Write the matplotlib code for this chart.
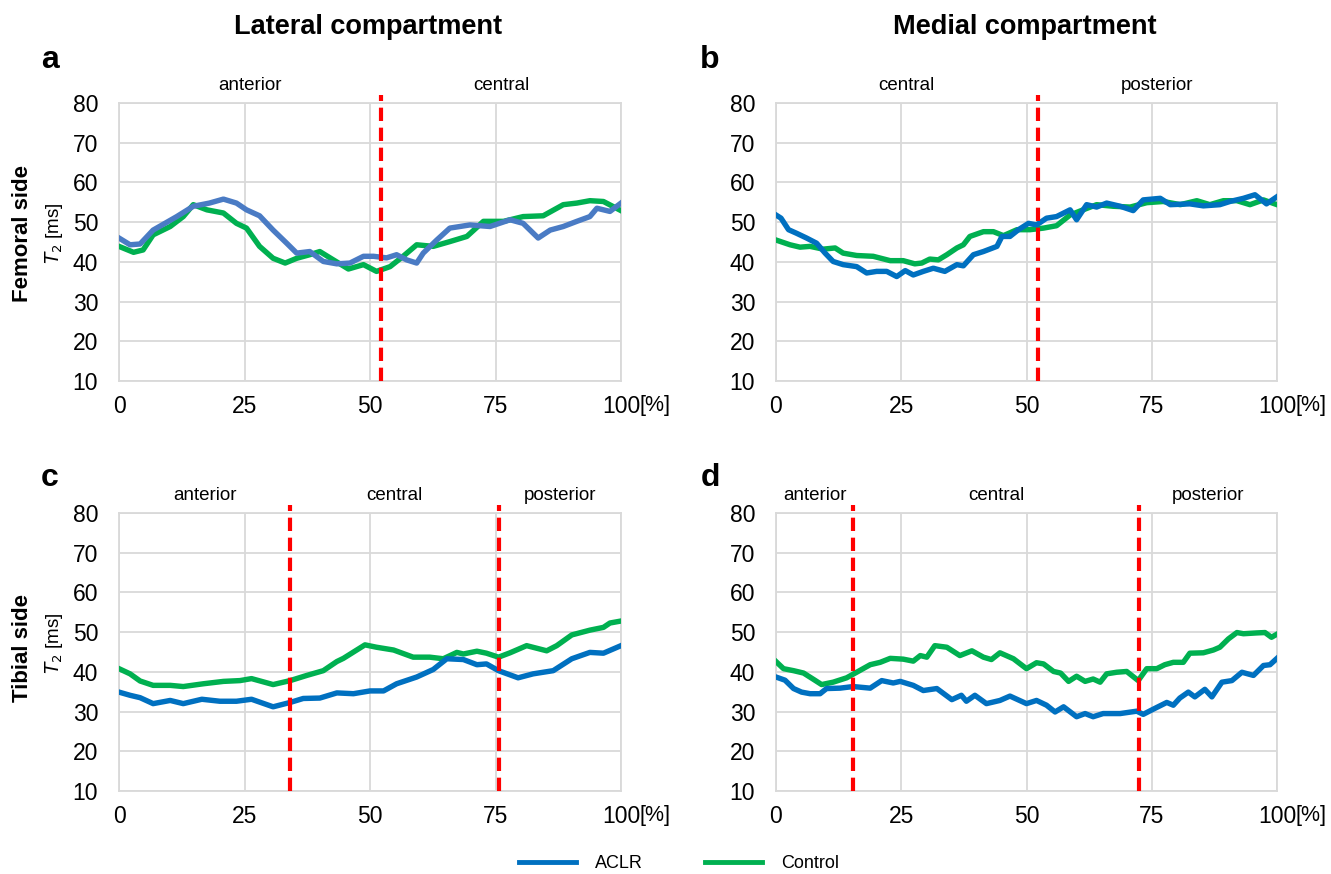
import matplotlib
matplotlib.use('Agg')
import matplotlib.pyplot as plt

plt.rcParams['font.family'] = ['Liberation Sans', 'DejaVu Sans']

# ---- data (position along the compartment [%], T2 [ms]) ----
a_aclr_x = [0, 2.2, 4.2, 6.8, 11.5, 14.8, 18, 20.8, 23.4, 25.4, 28, 30.7, 33.4, 35.4, 38, 40.7,
            43.4, 46, 48.7, 50.7, 53.3, 55.3, 57.3, 59.3, 60.6, 63.3, 65.9, 69.9, 73.9, 77.9,
            80.5, 83.5, 85.9, 88.5, 91.2, 93.8, 95.2, 97.8, 100]
a_aclr_y = [46.0, 44.3, 44.5, 48.0, 51.4, 54.0, 54.8, 55.8, 54.8, 53.1, 51.6, 48.0, 44.7, 42.2,
            42.6, 40.1, 39.5, 39.7, 41.4, 41.4, 41.0, 41.8, 40.5, 39.7, 42.2, 45.5, 48.5, 49.3,
            48.9, 50.6, 49.7, 46.0, 48.0, 48.9, 50.2, 51.4, 53.5, 52.7, 54.8]
a_ctrl_x = [0, 2.9, 4.8, 6.8, 10.2, 12.8, 14.8, 17.5, 20.8, 23.4, 25.4, 28, 30.7, 33.1, 35.4,
            38, 40, 42.7, 45.7, 48.7, 51.3, 54, 56.6, 59.3, 62.6, 65.9, 69.3, 72.6, 76.6, 80.5,
            84.5, 88.5, 91.2, 93.8, 96.5, 100]
a_ctrl_y = [43.9, 42.4, 43.0, 46.8, 48.9, 51.4, 54.4, 53.1, 52.3, 49.7, 48.5, 43.9, 40.9, 39.7,
            40.9, 41.8, 42.6, 40.5, 38.2, 39.3, 37.6, 38.8, 41.4, 44.3, 43.9, 45.1, 46.4, 50.2,
            50.2, 51.4, 51.6, 54.4, 54.8, 55.4, 55.2, 52.9]

b_aclr_x = [0, 1, 2.5, 4.1, 6.1, 8.1, 9.8, 11.4, 13.4, 16.1, 18.1, 20.1, 22.1, 24.1, 25.8, 27.4,
            29.4, 31.4, 33.7, 36.1, 37.4, 39.4, 41.4, 44.1, 45.1, 46.7, 48.4, 50.4, 52, 54, 56,
            58.7, 60, 62, 64, 66, 68.7, 71.3, 73.3, 76.7, 78.7, 82.6, 85.3, 88.6, 90.6, 93.3,
            95.6, 97.9, 100]
b_aclr_y = [51.8, 51.0, 48.1, 47.2, 46.0, 44.7, 42.2, 40.1, 39.3, 38.8, 37.2, 37.6, 37.6, 36.3,
            37.8, 36.7, 37.6, 38.4, 37.6, 39.3, 39.0, 41.8, 42.6, 43.9, 46.4, 46.4, 48.1, 49.7,
            49.3, 51.0, 51.4, 53.1, 50.6, 54.4, 53.8, 54.8, 54.0, 52.9, 55.6, 56.0, 54.4, 54.6,
            54.1, 54.4, 55.2, 56.0, 56.9, 54.6, 56.4]
b_ctrl_x = [0, 2.8, 4.8, 6.8, 9.4, 11.8, 13.4, 16.1, 19.4, 22.8, 25.4, 27.7, 29.1, 30.7, 32.4,
            34.1, 36.1, 37.4, 38.7, 41.4, 43.4, 45.4, 48.1, 50.7, 53.4, 56, 58.7, 61.3, 64,
            67.3, 70.7, 74, 77.3, 80.7, 84, 86.6, 89.3, 92, 94.6, 97.3, 100]
b_ctrl_y = [45.5, 44.3, 43.7, 43.9, 43.2, 43.5, 42.2, 41.6, 41.4, 40.3, 40.3, 39.5, 39.7, 40.7,
            40.5, 41.8, 43.5, 44.3, 46.4, 47.6, 47.6, 46.6, 48.1, 48.1, 48.5, 49.1, 51.8, 53.1,
            54.4, 54.0, 53.8, 54.9, 55.2, 54.4, 55.4, 54.4, 55.4, 55.4, 54.4, 55.6, 54.4]

c_aclr_x = [0, 2.2, 4.2, 6.8, 10.2, 12.8, 16.5, 20.1, 23.4, 26.4, 30.7, 34.1, 36.7, 40, 43.4,
            46.7, 50, 52.7, 55.3, 59.3, 62.6, 65.3, 68.6, 71.3, 73.2, 75.6, 79.5, 82.5, 86.5,
            90.2, 93.8, 96.5, 100]
c_aclr_y = [34.9, 34.1, 33.5, 32.0, 32.8, 32.0, 33.1, 32.6, 32.6, 33.1, 31.2, 32.3, 33.3, 33.4,
            34.7, 34.5, 35.2, 35.2, 37.0, 38.7, 40.6, 43.3, 43.1, 41.8, 42.0, 40.3, 38.5, 39.5,
            40.3, 43.3, 44.9, 44.7, 46.6]
c_ctrl_x = [0, 2.2, 4.2, 6.8, 10.2, 12.8, 16.8, 20.8, 24.1, 26.4, 30.7, 34.1, 37.4, 40.7, 43.4,
            44.7, 49, 51.3, 54.7, 58.6, 61.9, 64.6, 67.3, 68.6, 71.3, 73.2, 75.6, 77.9, 81.2,
            85.2, 87.2, 90.2, 93.8, 96.5, 97.8, 100]
c_ctrl_y = [40.8, 39.5, 37.7, 36.6, 36.6, 36.3, 37.0, 37.6, 37.8, 38.3, 36.8, 37.8, 39.1, 40.3,
            42.6, 43.4, 46.8, 46.2, 45.5, 43.7, 43.7, 43.3, 44.9, 44.5, 45.2, 44.7, 43.7, 44.8,
            46.6, 45.3, 46.6, 49.3, 50.5, 51.2, 52.3, 52.8]

d_aclr_x = [0, 1.8, 3.5, 5.1, 6.8, 8.8, 10.1, 12.8, 15.4, 18.8, 21.1, 23.4, 24.8, 27.4, 29.4,
            32.1, 35.1, 37, 38, 39.7, 42, 44.7, 46.7, 50, 52, 54, 55.7, 57.4, 60, 61.7, 63.3,
            65.3, 68.7, 72, 73.3, 75.3, 78, 79.3, 80.6, 82.3, 83.6, 85.6, 87, 89, 91, 93, 95.3,
            97.3, 98.6, 100]
d_aclr_y = [38.7, 37.9, 35.8, 34.9, 34.5, 34.5, 35.8, 35.9, 36.3, 35.9, 37.8, 37.2, 37.6, 36.6,
            35.3, 35.8, 33.0, 34.1, 32.6, 34.1, 32.0, 32.8, 33.9, 32.0, 32.8, 31.6, 29.9, 31.2,
            28.7, 29.5, 28.7, 29.5, 29.5, 30.1, 29.3, 30.6, 32.3, 31.6, 33.4, 34.9, 33.7, 35.6,
            33.7, 37.4, 37.8, 39.9, 39.1, 41.6, 41.8, 43.4]
d_ctrl_x = [0, 1.5, 3.5, 5.5, 7.5, 9.1, 11.4, 14.1, 16.1, 18.8, 20.8, 22.8, 25.4, 27.4, 28.8,
            30.1, 31.7, 34.1, 36.7, 39.1, 41.4, 43, 44.7, 47.4, 50, 52, 53.4, 55.4, 56.8, 58.4,
            60, 61.7, 63.3, 64.7, 66, 68, 70, 72.3, 74, 76, 77.6, 79.3, 81.3, 82.6, 85.3, 87.3,
            88.6, 90.3, 92, 93.3, 95.9, 97.6, 98.9, 100]
d_ctrl_y = [42.6, 40.8, 40.3, 39.7, 38.1, 36.8, 37.4, 38.5, 39.9, 41.8, 42.4, 43.4, 43.2, 42.7,
            44.1, 43.7, 46.6, 46.2, 44.1, 45.3, 43.7, 43.1, 44.8, 43.3, 40.8, 42.3, 42.0, 40.1,
            39.7, 37.6, 38.9, 37.6, 38.2, 37.4, 39.5, 39.9, 40.1, 37.8, 40.8, 40.8, 41.8, 42.4,
            42.4, 44.7, 44.8, 45.5, 46.2, 48.3, 49.9, 49.6, 49.8, 49.9, 48.7, 49.5]

# region borders [%] and region names
a_borders = [52.2]
b_borders = [52.2]
c_borders = [34.1, 75.7]
d_borders = [15.4, 72.5]
a_regions = ['anterior', 'central']
b_regions = ['central', 'posterior']
c_regions = ['anterior', 'central', 'posterior']
d_regions = ['anterior', 'central', 'posterior']

x_ticks = [0, 25, 50, 75, 100]
y_ticks = [10, 20, 30, 40, 50, 60, 70, 80]

ACLR_COLOR = '#0070C0'
ACLR_COLOR_A = '#4A7BC4'
CTRL_COLOR = '#00B050'
GRID = '#D9D9D9'

fig = plt.figure(figsize=(13.31, 8.74), dpi=100)
W, H = 1331, 874


def make_ax(left, top, right, bottom):
    return fig.add_axes([left / W, 1 - bottom / H, (right - left) / W, (bottom - top) / H])


def draw_panel(ax, aclr_x, aclr_y, ctrl_x, ctrl_y, borders, regions, aclr_color):
    ax.plot(ctrl_x, ctrl_y, color=CTRL_COLOR, lw=3.9, solid_joinstyle='round', zorder=3)
    ax.plot(aclr_x, aclr_y, color=aclr_color, lw=3.9, solid_joinstyle='round', zorder=3)
    for b in borders:
        ax.plot([b, b], [10, 82], color='#FF0000', lw=3, ls=(0, (3.2, 1.6)),
                clip_on=False, zorder=4)
    edges = [0] + borders + [100]
    for i, name in enumerate(regions):
        ax.text((edges[i] + edges[i + 1]) / 2, 82.2, name, ha='center', va='bottom',
                fontsize=13.5)
    ax.set_xlim(0, 100)
    ax.set_ylim(10, 80)
    ax.set_xticks(x_ticks)
    ax.set_yticks(y_ticks)
    ax.grid(True, color=GRID, lw=1.3)
    ax.set_axisbelow(True)
    for s in ax.spines.values():
        s.set_color(GRID)
        s.set_linewidth(1.3)
    ax.tick_params(length=0, labelsize=16.5)
    ax.tick_params(axis='x', pad=10)
    ax.tick_params(axis='y', pad=15)
    ax.annotate('[%]', xy=(1, 0), xycoords='axes fraction', xytext=(13, -10),
                textcoords='offset points', ha='left', va='top', fontsize=15.5)


ax_a = make_ax(119, 103, 621, 381)
ax_b = make_ax(776, 103, 1277, 381)
ax_c = make_ax(119, 513, 621, 791)
ax_d = make_ax(776, 513, 1277, 791)

draw_panel(ax_a, a_aclr_x, a_aclr_y, a_ctrl_x, a_ctrl_y, a_borders, a_regions, ACLR_COLOR_A)
draw_panel(ax_b, b_aclr_x, b_aclr_y, b_ctrl_x, b_ctrl_y, b_borders, b_regions, ACLR_COLOR)
draw_panel(ax_c, c_aclr_x, c_aclr_y, c_ctrl_x, c_ctrl_y, c_borders, c_regions, ACLR_COLOR)
draw_panel(ax_d, d_aclr_x, d_aclr_y, d_ctrl_x, d_ctrl_y, d_borders, d_regions, ACLR_COLOR)

# y labels
for ax in (ax_a, ax_c):
    ax.set_ylabel(r'$\mathit{T}_{2}$ [ms]', fontsize=13.5)
    ax.yaxis.set_label_coords(-0.108, 0.53)

fig.text(23 / W, 1 - 233 / H, 'Femoral side', rotation=90, ha='center', va='center',
         fontsize=16, fontweight='bold')
fig.text(23 / W, 1 - 648 / H, 'Tibial side', rotation=90, ha='center', va='center',
         fontsize=16, fontweight='bold')

fig.text(368 / W, 1 - 27 / H, 'Lateral compartment', ha='center', va='center',
         fontsize=19.5, fontweight='bold')
fig.text(1025 / W, 1 - 27 / H, 'Medial compartment', ha='center', va='center',
         fontsize=19.5, fontweight='bold')

for letter, px, py in [('a', 50, 60), ('b', 710, 60), ('c', 50, 478), ('d', 710, 478)]:
    fig.text(px / W, 1 - py / H, letter, ha='center', va='center', fontsize=23,
             fontweight='bold')

# legend
handles = [plt.Line2D([], [], color=ACLR_COLOR, lw=3.5),
           plt.Line2D([], [], color=CTRL_COLOR, lw=3.5)]
fig.legend(handles, ['ACLR', 'Control'], loc='center', bbox_to_anchor=(679 / W, 1 - 864 / H),
           ncol=2, frameon=False, fontsize=13, handlelength=3.15, columnspacing=3.4,
           handletextpad=1.1)

fig.savefig('out.png', dpi=100)
